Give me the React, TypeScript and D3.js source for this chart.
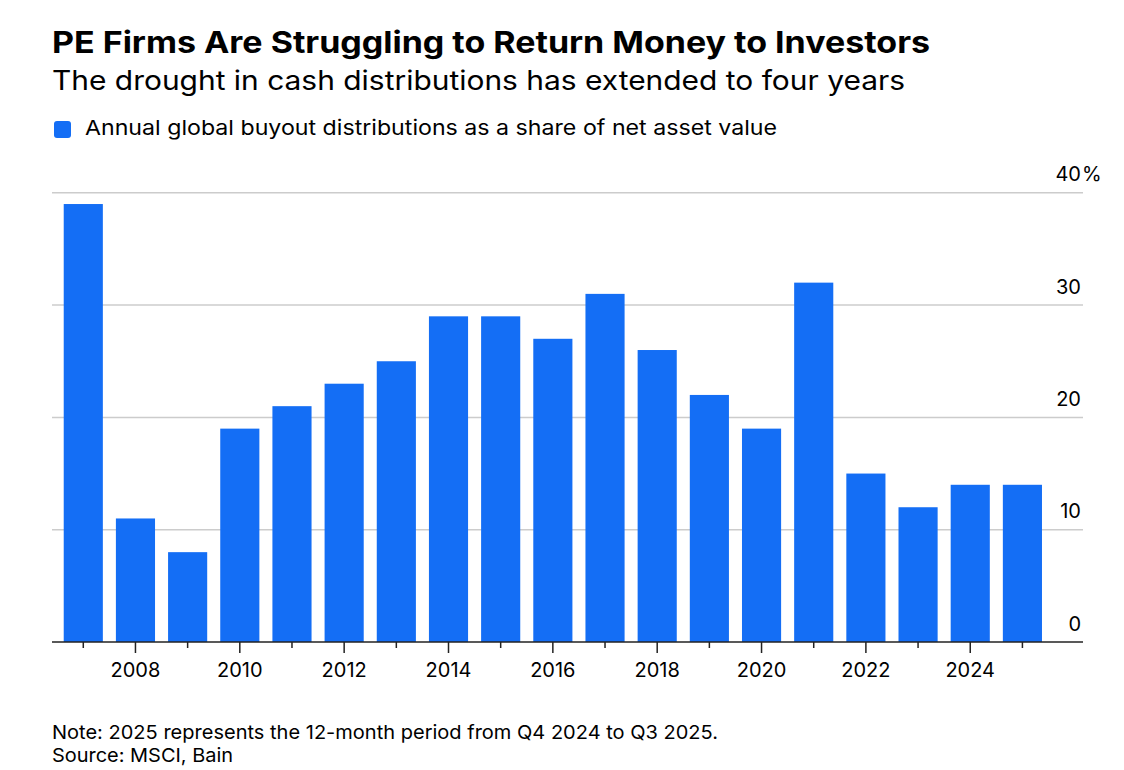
import React from "react";
import * as d3 from "d3";

const years = [2007, 2008, 2009, 2010, 2011, 2012, 2013, 2014, 2015, 2016, 2017, 2018, 2019, 2020, 2021, 2022, 2023, 2024, 2025];
const distributions = [39, 11, 8, 19, 21, 23, 25, 29, 29, 27, 31, 26, 22, 19, 32, 15, 12, 14, 14];
const yTicks = [0, 10, 20, 30, 40];
const labeledYears = [2008, 2010, 2012, 2014, 2016, 2018, 2020, 2022, 2024];

const W = 1124;
const H = 770;
const FONT = "Inter, 'Liberation Sans', Arial, sans-serif";
const BLUE = "#146EF5";

export default function App() {
  const x = d3
    .scaleBand<number>()
    .domain(years)
    .range([57.2, 1048.5])
    .paddingInner(0.25)
    .paddingOuter(0.125);
  const y = d3.scaleLinear().domain([0, 40]).range([642, 192.8]);
  const gridLeft = 52;
  const gridRight = 1083;
  const yMax = yTicks[yTicks.length - 1];

  return (
    <svg
      width={W}
      height={H}
      style={{ position: "absolute", left: 0, top: 0, background: "#fff" }}
      fontFamily={FONT}
    >
      <text x={52} y={53} fontSize={30} fontWeight={700} fill="#000" textLength={878} lengthAdjust="spacingAndGlyphs">
        PE Firms Are Struggling to Return Money to Investors
      </text>
      <text x={52} y={90} fontSize={27} fill="#000" textLength={853} lengthAdjust="spacingAndGlyphs">
        The drought in cash distributions has extended to four years
      </text>
      <rect x={54} y={121} width={17} height={17} rx={3} fill={BLUE} />
      <text x={85} y={135} fontSize={20.5} fill="#000" textLength={692} lengthAdjust="spacingAndGlyphs">
        Annual global buyout distributions as a share of net asset value
      </text>

      {yTicks
        .filter((t) => t > 0)
        .map((t) => (
          <line
            key={`g${t}`}
            x1={gridLeft}
            x2={gridRight}
            y1={y(t)}
            y2={y(t)}
            stroke="#cccccc"
            strokeWidth={1.5}
          />
        ))}

      {years.map((yr, i) => (
        <rect
          key={yr}
          x={x(yr)}
          y={y(distributions[i])}
          width={x.bandwidth()}
          height={y(0) - y(distributions[i])}
          fill={BLUE}
        />
      ))}

      {yTicks.map((t) => (
        <g key={`l${t}`}>
          <text x={1081} y={y(t) - 11.5} fontSize={20} textAnchor="end" fill="#000">
            {t}
          </text>
          {t === yMax ? (
            <text x={1082} y={y(t) - 11.5} fontSize={20} fill="#000">
              %
            </text>
          ) : null}
        </g>
      ))}

      <line x1={gridLeft} x2={gridRight} y1={y(0)} y2={y(0)} stroke="#222" strokeWidth={1.5} />
      {years.map((yr) => {
        const cx = (x(yr) as number) + x.bandwidth() / 2;
        const major = labeledYears.includes(yr);
        return (
          <line
            key={`t${yr}`}
            x1={cx}
            x2={cx}
            y1={y(0)}
            y2={y(0) + (major ? 11 : 6)}
            stroke="#222"
            strokeWidth={1.5}
          />
        );
      })}
      {labeledYears.map((yr) => (
        <text
          key={`xl${yr}`}
          x={(x(yr) as number) + x.bandwidth() / 2}
          y={677}
          fontSize={20}
          textAnchor="middle"
          fill="#000"
        >
          {yr}
        </text>
      ))}

      <text x={52} y={739} fontSize={19} fill="#000" textLength={666} lengthAdjust="spacingAndGlyphs">
        Note: 2025 represents the 12-month period from Q4 2024 to Q3 2025.
      </text>
      <text x={52} y={762} fontSize={19} fill="#000" textLength={181} lengthAdjust="spacingAndGlyphs">
        Source: MSCI, Bain
      </text>
    </svg>
  );
}
